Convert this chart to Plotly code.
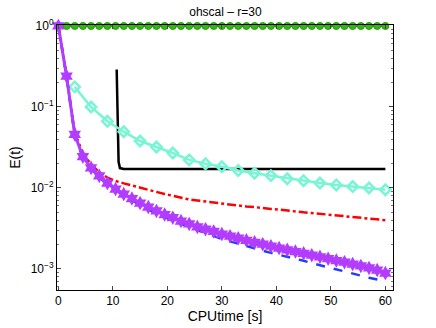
import plotly.graph_objects as go

# time grids [s]
t_fine = [0, 1.5, 3, 4.5, 6, 7.5, 9, 10.5, 12, 13.5, 15, 16.5, 18, 19.5, 21, 22.5, 24, 25.5, 27, 28.5,
          30, 31.5, 33, 34.5, 36, 37.5, 39, 40.5, 42, 43.5, 45, 46.5, 48, 49.5, 51, 52.5, 54, 55.5, 57, 58.5, 60]
t_cyan = [3, 6, 9, 12, 15, 18, 21, 24, 27, 30, 33, 36, 39, 42, 45, 48, 51, 54, 57, 60]
t_black = [10.7, 11.05, 11.3, 12, 20, 40, 60]

# E(t) per method
e_green = [1.0] * 41
e_purple = [1.0, 0.24, 0.046, 0.0243, 0.0177, 0.0141, 0.0115, 0.0097, 0.0084, 0.0074, 0.0065, 0.0058,
            0.0052, 0.0047, 0.0043, 0.0039, 0.0036, 0.0033, 0.0031, 0.0029, 0.0027, 0.00254, 0.0024,
            0.00226, 0.00213, 0.00202, 0.00191, 0.00181, 0.00172, 0.00164, 0.00156, 0.00148, 0.00141,
            0.00134, 0.00127, 0.00121, 0.00115, 0.00109, 0.00103, 0.00097, 0.00089]
e_blue = [1.0, 0.24, 0.0447, 0.0234, 0.017, 0.0135, 0.0111, 0.0093, 0.008, 0.007, 0.0062, 0.0054,
          0.0048, 0.0044, 0.0039, 0.0036, 0.0033, 0.003, 0.00275, 0.00254, 0.00234, 0.00219, 0.00204,
          0.0019, 0.00178, 0.00168, 0.00158, 0.0015, 0.00141, 0.00133, 0.00126, 0.00118, 0.00111,
          0.00105, 0.00099, 0.00094, 0.00088, 0.00083, 0.00078, 0.00074, 0.00068]
e_red = [1.0, 0.24, 0.048, 0.027, 0.0195, 0.0156, 0.0134, 0.0122, 0.0114, 0.0107, 0.01, 0.0094, 0.0089,
         0.0084, 0.008, 0.0076, 0.0072, 0.0070, 0.0068, 0.0065, 0.0063, 0.0062, 0.006, 0.0059, 0.0058,
         0.0056, 0.0055, 0.0054, 0.0053, 0.0051, 0.005, 0.0049, 0.0048, 0.0047, 0.0046, 0.0045, 0.0044,
         0.0043, 0.0042, 0.0041, 0.004]
e_cyan = [0.177, 0.1, 0.0666, 0.0495, 0.038, 0.032, 0.027, 0.0222, 0.0199, 0.0183, 0.0164, 0.0152,
          0.0142, 0.013, 0.0123, 0.0115, 0.0109, 0.0104, 0.01, 0.0095]
e_black = [0.29, 0.021, 0.0176, 0.0172, 0.0171, 0.0171, 0.0171]

fig = go.Figure()
fig.add_trace(go.Scatter(x=t_fine, y=e_green, mode="lines+markers", cliponaxis=False,
                         line=dict(color="#1a9a00", width=2),
                         marker=dict(symbol="circle", size=7, color="#33b812", line=dict(color="#22a000", width=1))))
fig.add_trace(go.Scatter(x=t_black, y=e_black, mode="lines", line=dict(color="black", width=2.5)))
fig.add_trace(go.Scatter(x=t_cyan, y=e_cyan, mode="lines+markers",
                         line=dict(color="#78f5d4", width=2.5),
                         marker=dict(symbol="diamond-open", size=8, color="#78f5d4", line=dict(width=2.5))))
fig.add_trace(go.Scatter(x=t_fine, y=e_red, mode="lines", line=dict(color="#ff0000", width=2.5, dash="dashdot")))
fig.add_trace(go.Scatter(x=t_fine, y=e_blue, mode="lines", line=dict(color="#1f3dff", width=2.5, dash="dash")))
fig.add_trace(go.Scatter(x=t_fine, y=e_purple, mode="lines+markers", cliponaxis=False,
                         line=dict(color="#b23cff", width=3),
                         marker=dict(symbol="hexagram", size=11, color="#b23cff")))

font = "Liberation Sans, Arial, sans-serif"
fig.update_layout(
    width=436, height=328,
    margin=dict(l=57, r=43, t=25, b=38, autoexpand=False),
    paper_bgcolor="white", plot_bgcolor="white",
    showlegend=False,
    font=dict(family=font, size=12, color="black"),
    title=dict(text="ohscal – r=30", x=0.517, xanchor="center", y=0.963, yanchor="middle",
               font=dict(size=12), automargin=False),
)
fig.update_xaxes(range=[-0.25, 61.4], tickvals=[0, 10, 20, 30, 40, 50, 60], automargin=False,
                 ticks="inside", ticklen=4, showline=True, linecolor="black", linewidth=1,
                 mirror="allticks", showgrid=False, zeroline=False,
                 title=dict(text="CPUtime [s]", standoff=3))
fig.update_yaxes(type="log", range=[-3.26, 0.012], tickvals=[0.001, 0.01, 0.1, 1], automargin=False,
                 ticktext=["10<sup>−3</sup>", "10<sup>−2</sup>", "10<sup>−1</sup>", "10<sup>0</sup>"],
                 ticks="inside", ticklen=4, showline=True, linecolor="black", linewidth=1,
                 mirror="allticks", showgrid=False, zeroline=False,
                 minor=dict(ticks="inside", ticklen=2, tickcolor="#777", dtick="D1"),
                 title=dict(text="E(t)", standoff=6))

# page body has a default 8px margin; drop it so the figure sits at the window corner
fig.write_html("out.html", config={"displayModeBar": False},
               post_script="document.body.style.margin='0';")
